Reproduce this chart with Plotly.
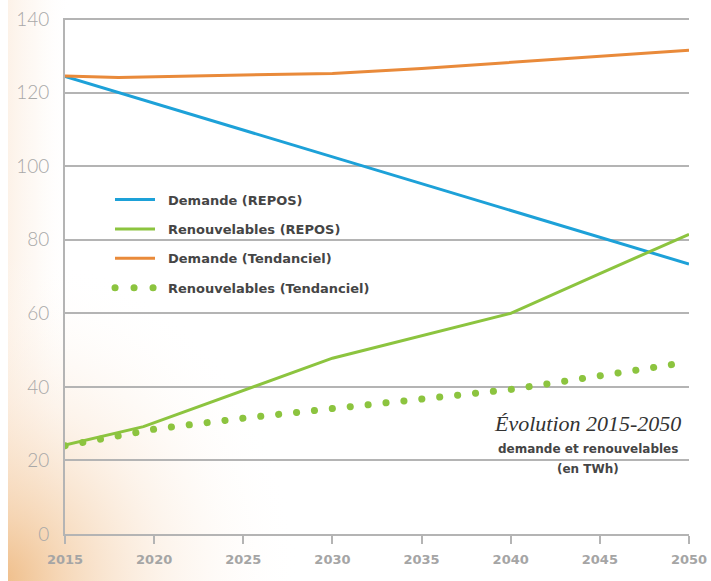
import base64
import plotly.graph_objects as go

# ---------------- data ----------------
years_demande_repos = [2015, 2050]
demande_repos = [124.4, 73.4]

years_renouv_repos = [2015, 2019.4, 2030, 2040, 2045, 2050]
renouv_repos = [24.2, 29.2, 47.8, 60.0, 70.8, 81.5]

years_demande_tend = [2015, 2018, 2025, 2030, 2035, 2040, 2045, 2050]
demande_tend = [124.5, 124.1, 124.8, 125.2, 126.6, 128.3, 130.0, 131.5]

years_renouv_tend = [2015, 2020, 2025, 2030, 2035, 2040, 2045, 2050]
renouv_tend = [24.0, 28.5, 31.5, 34.0, 36.6, 39.3, 43.0, 46.8]

x_ticks = [2015, 2020, 2025, 2030, 2035, 2040, 2045, 2050]
y_ticks = [0, 20, 40, 60, 80, 100, 120, 140]

names = ["Demande (REPOS)", "Renouvelables (REPOS)",
         "Demande (Tendanciel)", "Renouvelables (Tendanciel)"]

# ---------------- style ----------------
W, H = 711, 581
ML, MR, MT, MB = 65, 22, 18, 47
PW, PH = W - ML - MR, H - MT - MB

BLUE = "#1da1d8"
GREEN = "#8cc43f"
ORANGE = "#e98a3a"
GRID = "#b4b4b4"

fig = go.Figure()
fig.add_trace(go.Scatter(x=years_demande_repos, y=demande_repos, mode="lines",
                         name=names[0], legendgroup="a",
                         line=dict(color=BLUE, width=3)))
fig.add_trace(go.Scatter(x=years_renouv_repos, y=renouv_repos, mode="lines",
                         name=names[1], legendgroup="b",
                         line=dict(color=GREEN, width=3)))
fig.add_trace(go.Scatter(x=years_demande_tend, y=demande_tend, mode="lines",
                         name=names[2], legendgroup="c",
                         line=dict(color=ORANGE, width=3)))
fig.add_trace(go.Scatter(x=years_renouv_tend, y=renouv_tend, mode="lines",
                         name=names[3], legendgroup="d",
                         line=dict(color=GREEN, width=7, dash="0.1px,17.9px")))

# background gradient (peach in the bottom-left corner)
svg = f'''<svg xmlns="http://www.w3.org/2000/svg" width="{W}" height="{H}" viewBox="0 0 {W} {H}">
<defs>
<linearGradient id="lin" x1="0" y1="0" x2="1" y2="0">
<stop offset="0" stop-color="#fbebdc" stop-opacity="0.8"/>
<stop offset="0.05" stop-color="#fdf4ec" stop-opacity="0.5"/>
<stop offset="0.1" stop-color="#ffffff" stop-opacity="0"/>
</linearGradient>
<radialGradient id="rad" cx="0" cy="{H}" r="300" gradientUnits="userSpaceOnUse"
 gradientTransform="translate(0 {H}) scale(1 1.1) translate(0 -{H})">
<stop offset="0" stop-color="#efbd88" stop-opacity="1"/>
<stop offset="0.2" stop-color="#f4d0aa" stop-opacity="0.85"/>
<stop offset="0.55" stop-color="#fae6d3" stop-opacity="0.45"/>
<stop offset="1" stop-color="#ffffff" stop-opacity="0"/>
</radialGradient>
</defs>
<rect width="{W}" height="{H}" fill="#ffffff"/>
<rect width="{W}" height="{H}" fill="url(#lin)"/>
<rect width="{W}" height="{H}" fill="url(#rad)"/>
<rect width="8" height="{H}" fill="#ffffff"/>
</svg>'''
src = "data:image/svg+xml;base64," + base64.b64encode(svg.encode()).decode()

fig.add_layout_image(dict(source=src, xref="paper", yref="paper",
                          x=-ML / PW, y=1 + MT / PH, sizex=W / PW, sizey=H / PH,
                          xanchor="left", yanchor="top", sizing="stretch",
                          layer="below"))

# caption
TXT = "#454545"
fig.add_annotation(xref="paper", yref="paper", x=(587 - ML) / PW, y=(534.4 - 424) / PH,
                   text="<i>Évolution 2015-2050</i>", showarrow=False,
                   font=dict(family="Liberation Serif", size=22, color="#333333"),
                   xanchor="center", yanchor="middle")
fig.add_annotation(xref="paper", yref="paper", x=(588 - ML) / PW, y=(534.4 - 449) / PH,
                   text="demande et renouvelables", showarrow=False,
                   font=dict(family="DejaVu Sans", size=12, color=TXT, weight="bold"),
                   xanchor="center", yanchor="middle")
fig.add_annotation(xref="paper", yref="paper", x=(588 - ML) / PW, y=(534.4 - 469) / PH,
                   text="(en TWh)", showarrow=False,
                   font=dict(family="DejaVu Sans", size=12, color=TXT, weight="bold"),
                   xanchor="center", yanchor="middle")

fig.update_layout(
    width=W, height=H,
    margin=dict(l=ML, r=MR, t=MT, b=MB, autoexpand=False),
    paper_bgcolor="white",
    plot_bgcolor="rgba(0,0,0,0)",
    showlegend=True,
    legend=dict(x=(108 - ML) / PW, y=(534.4 - 185) / PH, xanchor="left", yanchor="top",
                bgcolor="rgba(0,0,0,0)", tracegroupgap=9.5, itemwidth=50,
                font=dict(family="DejaVu Sans", size=13, color=TXT, weight="bold")),
    xaxis=dict(range=[2015, 2050], tickvals=x_ticks, ticktext=[str(v) for v in x_ticks],
               showgrid=False, zeroline=False, showline=True, linecolor=GRID, linewidth=2,
               ticks="outside", ticklen=8, tickwidth=2, tickcolor=GRID,
               ticklabelstandoff=4, automargin=False,
               tickfont=dict(family="DejaVu Sans", size=13, color="#a5a5a5", weight="bold")),
    yaxis=dict(range=[0, 140.3], tickvals=y_ticks, showgrid=True, gridcolor=GRID, gridwidth=2,
               zeroline=False, showline=True, linecolor=GRID, linewidth=2,
               ticks="", ticklabelstandoff=10, automargin=False,
               tickfont=dict(family="Lato", size=19, color="#a8a8a8", weight=300)),
)

post = """
var gd = document.getElementById('{plot_id}');
function fix(){
  var tr = gd.querySelectorAll('.scatterlayer .trace');
  if (tr.length >= 4) {
    var p = tr[3].querySelector('path.js-line');
    if (p) { p.style.strokeLinecap = 'round'; }
  }
  var lt = gd.querySelectorAll('.legend .traces');
  lt.forEach(function(t, i){
    var p = t.querySelector('path.js-line');
    if (!p) return;
    p.setAttribute('d', 'M7,0h40');
    if (i === 3) { p.style.strokeLinecap = 'round'; p.style.strokeDasharray = '0.1px,18.9px'; p.style.strokeWidth='7px'; }
  });
}
fix();
gd.on('plotly_afterplot', fix);
"""

fig.write_html("out.html", post_script=post)
